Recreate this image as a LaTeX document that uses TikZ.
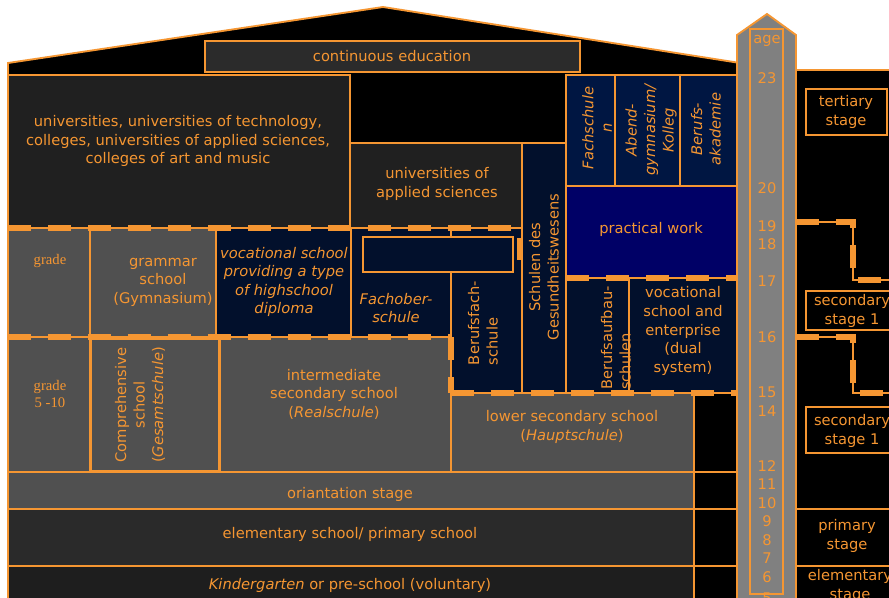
\documentclass[tikz,border=0pt]{standalone}
\usepackage{fontspec}
\setmainfont{DejaVu Sans}
\newfontfamily\gradefont{Liberation Serif}
\definecolor{org}{RGB}{245,150,50}
\definecolor{uni}{RGB}{32,32,32}
\definecolor{cont}{RGB}{43,43,43}
\definecolor{slate}{RGB}{80,80,80}
\definecolor{navy}{RGB}{2,16,44}
\definecolor{navyb}{RGB}{0,22,66}
\definecolor{work}{RGB}{0,0,102}
\definecolor{elem}{RGB}{42,42,42}
\definecolor{kind}{RGB}{30,30,30}
\definecolor{pillar}{RGB}{128,128,128}
\begin{document}
\begin{tikzpicture}[x=0.75pt,y=-0.75pt,
  lbl/.style={text=org,font=\fontsize{11}{13.9}\selectfont,align=center,inner sep=0pt},
  lbli/.style={lbl,font=\fontsize{11}{13.9}\selectfont\itshape},
  lblg/.style={lbl,font=\fontsize{11}{13.4}\selectfont\gradefont},
  cell/.style={draw=org,line width=1.4pt},
  tier/.style={draw=org,line width=1.4pt,
    postaction={draw=org,line width=4pt,dash pattern=on 17pt off 13pt}}]

\path[use as bounding box, fill=white] (0,0) rectangle (889,597);
\clip (0,0) rectangle (889,597);

% house with roof
\draw[fill=black, draw=org, line width=1.4pt]
  (8,605) -- (8,63) -- (383,7) -- (740,63) -- (740,605);

% right-hand stage panel
\draw[fill=black, draw=org, line width=1.4pt]
  (796,605) -- (796,70) -- (895,70) -- (895,605);

% tertiary level
\draw[cell, fill=cont] (205,41) rectangle (580,72);
\draw[cell, fill=uni] (8,75) rectangle (350,228);
\draw[cell, fill=uni] (350,143) rectangle (522,228);
\draw[cell, fill=navy] (522,143) rectangle (566,393);
\draw[cell, fill=navyb] (566,75) rectangle (615,186);
\draw[cell, fill=navyb] (615,75) rectangle (680,186);
\draw[cell, fill=navyb] (680,75) rectangle (737,186);
\draw[cell, fill=work] (566,186) rectangle (737,278);

% upper secondary level
\draw[cell, fill=slate] (8,228) rectangle (90,337);
\draw[cell, fill=slate] (90,228) rectangle (216,337);
\draw[cell, fill=navy] (216,228) rectangle (351,337);
\draw[cell, fill=navy] (351,228) rectangle (451,337);
\draw[cell, fill=navy] (451,228) rectangle (522,393);
\draw[cell, fill=navy] (363,237) rectangle (513,272);
\draw[cell, fill=navy] (566,278) rectangle (629,393);
\draw[cell, fill=navy] (629,278) rectangle (737,393);

% lower secondary level
\draw[cell, fill=slate] (8,337) rectangle (90,472);
\draw[cell, fill=slate] (90,337) rectangle (220,472);
\draw[draw=org, line width=1.1pt, fill=slate] (91,339) rectangle (219,471);
\draw[cell, fill=slate] (220,337) rectangle (451,472);
\draw[cell, fill=slate] (451,393) rectangle (694,472);
\draw[cell, fill=black] (694,393) rectangle (737,472);

% primary level and pre-school
\draw[cell, fill=slate] (8,472) rectangle (694,509);
\draw[cell, fill=black] (694,472) rectangle (737,509);
\draw[cell, fill=elem] (8,509) rectangle (694,566);
\draw[cell, fill=black] (694,509) rectangle (737,566);
\draw[cell, fill=kind] (8,566) rectangle (694,605);
\draw[cell, fill=black] (694,566) rectangle (737,605);

% transitions between levels
\draw[tier] (8,228) -- (522,228);
\draw[tier] (566,278) -- (737,278);
\draw[tier] (8,337) -- (451,337);
\draw[tier] (451,337) -- (451,393);
\draw[tier, postaction={dash phase=15pt}] (451,393) -- (737,393);
\draw[org, line width=4pt] (520,238) -- (520,260);

% right panel stage boxes and links
\draw[cell] (806,89) rectangle (887,135);
\draw[cell] (806,291) rectangle (897,330);
\draw[cell] (806,407) rectangle (897,453);
\draw[cell] (796,509) -- (895,509);
\draw[cell] (796,566) -- (895,566);
\draw[tier] (796,222) -- (853,222) -- (853,280) -- (895,280);
\draw[tier] (796,337) -- (853,337) -- (853,393) -- (895,393);

% age column
\draw[fill=pillar, draw=org, line width=1.4pt]
  (737,605) -- (737,35) -- (767,14) -- (796,35) -- (796,605);
\draw[cell] (750,29) rectangle (783,594);

% labels
\node[lbl] (conted) at (392,56) {continuous education};
\node[lbl] (univ) at (178,141) {universities, universities of technology,\\colleges, universities of applied sciences,\\colleges of art and music};
\node[lbl] (uas) at (437,184) {universities of\\applied sciences};
\node[lbli, rotate=90] (fachschulen) at (597,128) {Fachschule\\n};
\node[lbli, rotate=90] (abend) at (651,130) {Abend-\\gymnasium/\\Kolleg};
\node[lbli, rotate=90] (ba) at (706,129) {Berufs-\\akademie};
\node[lbl] (work) at (651,229) {practical work};
\node[lbl, rotate=90] (health) at (544,267) {Schulen des\\Gesundheitswesens};
\node[lblg] (grade1) at (50,261) {grade};
\node[lbl] (gym) at (163,282) {grammar\\school\\(Gymnasium)};
\node[lbli] (vocgym) at (284,282) {vocational school\\providing a type\\of highschool\\diploma};
\node[lbli] (fos) at (396,308) {Fachober-\\schule};
\node[lbl, rotate=90, align=left] (bfs) at (483,323) {Berufsfach-\\schule};
\node[lbl, rotate=90, align=left] (bas) at (616,338) {Berufsaufbau-\\schulen};
\node[lbl] (dual) at (683,331) {vocational\\school and\\enterprise\\(dual\\system)};
\node[lblg] (grade2) at (50,394) {grade\\5 -10};
\node[lbl, rotate=90] (gesamt) at (140,405) {Comprehensive\\school\\(\textit{Gesamtschule})};
\node[lbl] (real) at (334,394) {intermediate\\secondary school\\(\textit{Realschule})};
\node[lbl] (haupt) at (572,427) {lower secondary school\\(\textit{Hauptschule})};
\node[lbl] (orient) at (350,494) {oriantation stage};
\node[lbl] (prim) at (350,534) {elementary school/ primary school};
\node[lbl] (kiga) at (350,585) {\textit{Kindergarten} or pre-school (voluntary)};

\node[lbl] (tert) at (846,112) {tertiary\\stage};
\node[lbl] (sec2) at (852,311) {secondary\\stage 1};
\node[lbl] (sec1) at (852,431) {secondary\\stage 1};
\node[lbl] (primst) at (847,536) {primary\\stage};
\node[lbl] (elemst) at (850,586) {elementary\\stage};

\node[lbl] (age) at (767,41) {age};
\foreach \a/\yy in {23/78,20/188,19/226,18/244,17/281,16/337,15/392,14/411,
                    12/466,11/484,10/503,9/521,8/540,7/558,6/577,5/598}
  \node[lbl] (age\a) at (767,\yy) {\a};
\end{tikzpicture}
\end{document}
